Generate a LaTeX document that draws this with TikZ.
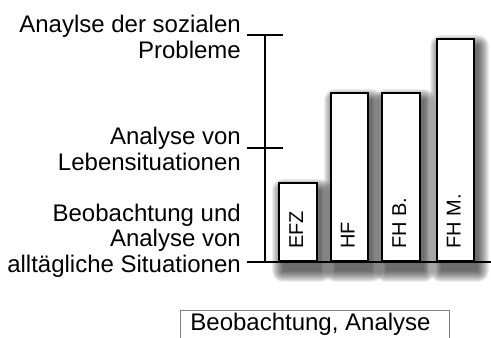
\documentclass[tikz,border=0pt]{standalone}
\usepackage{fontspec}
\setmainfont{Liberation Sans}
\begin{document}
\begin{tikzpicture}[x=1pt,y=1pt,
  lbl/.style={font=\fontsize{24}{26}\selectfont, align=right, anchor=base east, inner sep=0pt},
  bar/.style={draw=black, line width=2.2pt, fill=white, anchor=south, inner sep=0pt},
  barlbl/.style={font=\fontsize{20}{24}\selectfont, rotate=90, anchor=base west, inner sep=0pt},
  axis/.style={line width=2.2pt},
  shadowlayer/.style={fill=black, fill opacity=0.065, rounded corners=#1}
]
\fill[white] (0,0) rectangle (491,338);
\useasboundingbox (0,0) rectangle (491,338);
% labels
\node[lbl] (l1) at (241,279) {Anaylse der sozialen\\Probleme};
\node[lbl] (l2) at (241,167) {Analyse von\\Lebensituationen};
\node[lbl] (l3) at (241,65) {Beobachtung und\\Analyse von\\alltägliche Situationen};
% shadows
\foreach \xa/\xb/\yt in {279/317/154, 331/368/244, 382/420/244, 437/474/298}{
  \foreach \r in {0,1,...,11}{
    \fill[shadowlayer=\r pt] (\xa+4-\r, 76-9-\r) rectangle (\xb+4+\r, \yt-6+\r);
  }
}
% bars
\node[bar, minimum width=38, minimum height=78] (efz) at (298,76) {};
\node[bar, minimum width=37, minimum height=168] (hf) at (349.5,76) {};
\node[bar, minimum width=38, minimum height=168] (fhb) at (401,76) {};
\node[bar, minimum width=37, minimum height=222] (fhm) at (455.5,76) {};
\node[barlbl] (tefz) at ([xshift=5pt,yshift=13pt]efz.south) {EFZ};
\node[barlbl] (thf) at ([xshift=5pt,yshift=13pt]hf.south) {HF};
\node[barlbl] (tfhb) at ([xshift=5pt,yshift=13pt]fhb.south) {FH B.};
\node[barlbl] (tfhm) at ([xshift=5pt,yshift=13pt]fhm.south) {FH M.};
% axis
\coordinate (atop) at (265,303);
\coordinate (amid) at (265,190);
\coordinate (abot) at (265,76);
\draw[axis] (atop) -- (abot);
\draw[axis] (247,303) -- (283,303);
\draw[axis] (247,190) -- (283,190);
\draw[axis] (247,76) -- (492,76);
% bottom box
\draw[draw=black!50, line width=1pt] (180,-2) -- (180,27) -- (449,27) -- (449,-2);
\node[font=\fontsize{24}{26}\selectfont, anchor=base, inner sep=0pt] (bot) at (310.5,7) {Beobachtung, Analyse};
\end{tikzpicture}
\end{document}
